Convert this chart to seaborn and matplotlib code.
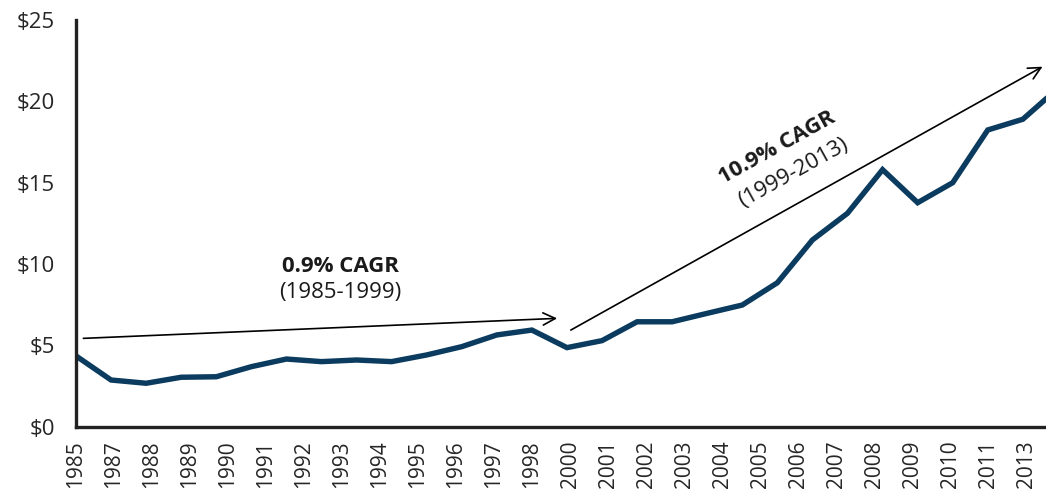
import numpy as np
import pandas as pd
import matplotlib
matplotlib.use("Agg")
import matplotlib.pyplot as plt
import seaborn as sns

# ---- data ----
years = list(range(1985, 2014))
values = [4.35, 2.87, 2.67, 3.04, 3.07, 3.69, 4.16, 4.00, 4.10, 4.00,
          4.41, 4.92, 5.64, 5.94, 4.86, 5.29, 6.45, 6.45, 6.97, 7.48,
          8.85, 11.48, 13.12, 15.80, 13.77, 15.00, 18.24, 18.90, 20.80]
tick_labels = ["1985", "1987", "1988", "1989", "1990", "1991", "1992", "1993",
               "1994", "1995", "1996", "1997", "1998", "2000", "2001", "2002",
               "2003", "2004", "2005", "2006", "2007", "2008", "2009", "2010",
               "2011", "2013"]
y_ticks = [0, 5, 10, 15, 20, 25]
y_tick_labels = ["$0", "$5", "$10", "$15", "$20", "$25"]

df = pd.DataFrame({"pos": [y - years[0] for y in years], "value": values})

sns.set_theme(style="white")
plt.rcParams["font.family"] = ["Open Sans", "DejaVu Sans"]

fig = plt.figure(figsize=(10.46, 4.96), dpi=100)
ax = fig.add_axes([76 / 1046, 69.3 / 496, 1 - 76 / 1046, (476 - 69.3) / 496])

sns.lineplot(data=df, x="pos", y="value", ax=ax, color="#0B3B5E", linewidth=3.9,
             solid_joinstyle="miter")

ax.set_xlim(0, 27.66)
ax.set_ylim(0, 25)
ax.set_xlabel("")
ax.set_ylabel("")

tick_pos = np.linspace(0, 27.09, len(tick_labels))
ax.set_xticks(tick_pos)
ax.set_xticklabels(tick_labels, rotation=90, fontsize=15, color="#262626")
ax.set_yticks(y_ticks)
ax.set_yticklabels(y_tick_labels, fontsize=16, color="#262626")

for side in ["top", "right"]:
    ax.spines[side].set_visible(False)
for side in ["left", "bottom"]:
    ax.spines[side].set_color("#222222")
    ax.spines[side].set_linewidth(2.4)
ax.tick_params(axis="both", which="major", direction="out", length=6, width=2.2,
               color="#222222")
ax.tick_params(axis="y", pad=9)
ax.tick_params(axis="x", pad=4)
ax.grid(False)

arrow_kw = dict(arrowstyle="->", color="black", lw=1.2, mutation_scale=22,
                shrinkA=0, shrinkB=0)
ax.annotate("", xy=(13.72, 6.66), xytext=(0.21, 5.43), arrowprops=arrow_kw,
            annotation_clip=False)
ax.annotate("", xy=(27.56, 22.13), xytext=(14.11, 5.94), arrowprops=arrow_kw,
            annotation_clip=False)

ax.text(7.53, 9.82, "0.9% CAGR", ha="center", va="center", fontsize=16,
        fontweight="bold", color="#1a1a1a")
ax.text(7.53, 8.28, "(1985-1999)", ha="center", va="center", fontsize=16,
        color="#1a1a1a")
ax.text(20.0, 17.15, "10.9% CAGR", ha="center", va="center", fontsize=16,
        fontweight="bold", color="#1a1a1a", rotation=29, rotation_mode="anchor")
ax.text(20.45, 15.6, "(1999-2013)", ha="center", va="center", fontsize=16,
        color="#1a1a1a", rotation=29, rotation_mode="anchor")

fig.savefig("out.png", dpi=100)
